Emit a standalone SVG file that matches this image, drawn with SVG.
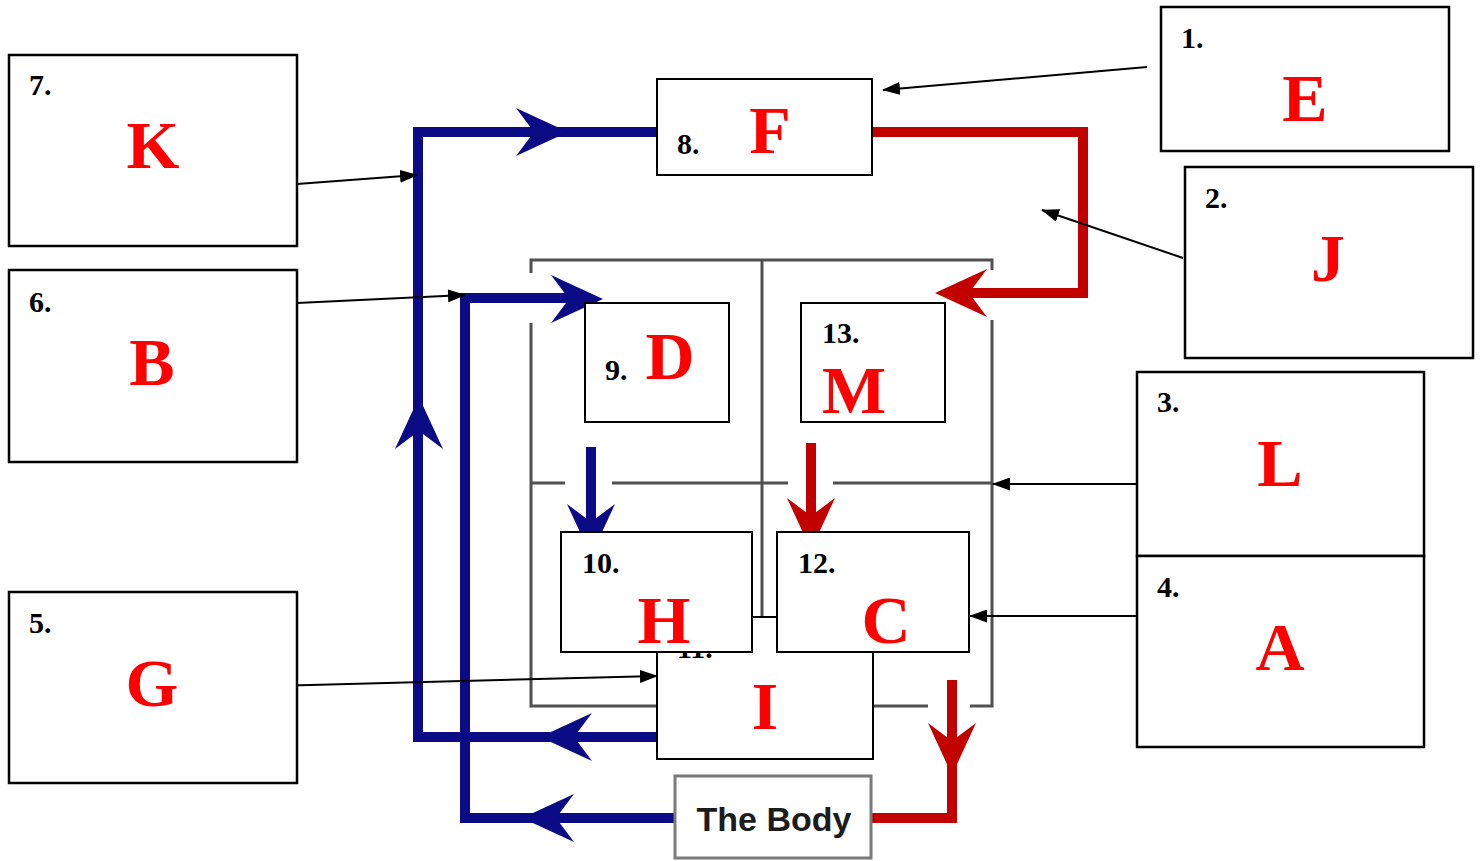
<svg xmlns="http://www.w3.org/2000/svg" width="1480" height="861" viewBox="0 0 1480 861">
  <style>
    .box { fill: #ffffff; stroke: #000000; stroke-width: 2.5; }
    .inbox { fill: #ffffff; stroke: #000000; stroke-width: 2; }
    .num { font-family: "Liberation Serif", "Times New Roman", serif; font-weight: bold; font-size: 30px; fill: #000000; }
    .let { font-family: "Liberation Serif", "Times New Roman", serif; font-weight: bold; font-size: 68px; fill: #ff0000; text-anchor: middle; }
    .wall { fill: none; stroke: #505050; stroke-width: 3; }
    .blue { fill: none; stroke: #0b0b85; stroke-width: 10; stroke-linejoin: miter; }
    .red { fill: none; stroke: #c20000; stroke-width: 10; stroke-linejoin: miter; }
    .bfill { fill: #0b0b85; }
    .rfill { fill: #c20000; }
    .ptr { fill: none; stroke: #000000; stroke-width: 2; marker-end: url(#tip); }
    .body { fill: #ffffff; stroke: #7a7a7a; stroke-width: 3; }
    .bodytext { font-family: "Liberation Sans", Arial, sans-serif; font-weight: bold; font-size: 34px; fill: #1c1c1c; text-anchor: middle; }
  </style>
  <defs>
    <!-- chevron arrowhead pointing right, tip at origin -->
    <path id="head" d="M0,0 L-52,-24 L-34,0 L-52,24 Z"/>
    <marker id="tip" viewBox="0 0 18 13" refX="17" refY="6.5" markerWidth="18" markerHeight="13" markerUnits="userSpaceOnUse" orient="auto">
      <path d="M0,0 L18,6.5 L0,13 Z" fill="#000000"/>
    </marker>
  </defs>

  <rect x="0" y="0" width="1480" height="861" fill="#ffffff"/>

  <!-- heart chambers outline -->
  <g id="heart-walls">
    <path class="wall" d="M531,273 V260 H992 V270"/>
    <path class="wall" d="M531,323 V706 H657"/>
    <path class="wall" d="M992,320 V706 H970"/>
    <path class="wall" d="M873,706 H928"/>
    <path class="wall" d="M762,260 V616"/>
    <path class="wall" d="M531,483 H565 M612,483 H788 M833,483 H992"/>
  </g>

  <!-- circulation flows -->
  <g id="connectors">
    <path class="blue" d="M657,737 H418 V132 H560"/>
    <path class="blue" d="M560,132 H657"/>
    <path class="blue" d="M675,818 H465 V298 H580"/>
    <path class="blue" d="M591,447 V530"/>
    <path class="red" d="M872,132 H1083 V293 H960"/>
    <path class="red" d="M811,443 V530"/>
    <path class="red" d="M952,680 V818 H872"/>

    <use href="#head" class="bfill" transform="translate(568,132)"/>
    <use href="#head" class="bfill" transform="translate(419,397) rotate(-90)"/>
    <use href="#head" class="bfill" transform="translate(540,737) rotate(180)"/>
    <use href="#head" class="bfill" transform="translate(522,818) rotate(180)"/>
    <use href="#head" class="bfill" transform="translate(603,299)"/>
    <use href="#head" class="bfill" transform="translate(591,556) rotate(90)"/>
    <use href="#head" class="rfill" transform="translate(935,293) rotate(180)"/>
    <use href="#head" class="rfill" transform="translate(811,550) rotate(90)"/>
    <use href="#head" class="rfill" transform="translate(952,775) rotate(90)"/>
  </g>

  <!-- labels inside the heart -->
  <g id="node-11">
    <rect class="inbox" x="657" y="617" width="216" height="142"/>
    <text class="num" x="677" y="658">11.</text>
    <text class="let" x="765" y="729">I</text>
  </g>
  <g id="node-10">
    <rect class="inbox" x="561" y="532" width="191" height="120"/>
    <text class="num" x="582" y="573">10.</text>
    <text class="let" x="664" y="643">H</text>
  </g>
  <g id="node-12">
    <rect class="inbox" x="777" y="532" width="192" height="120"/>
    <text class="num" x="798" y="573">12.</text>
    <text class="let" x="886" y="643">C</text>
  </g>
  <g id="node-9">
    <rect class="inbox" x="585" y="303" width="144" height="119"/>
    <text class="num" x="605" y="380">9.</text>
    <text class="let" x="670" y="379">D</text>
  </g>
  <g id="node-13">
    <rect class="inbox" x="801" y="303" width="144" height="119"/>
    <text class="num" x="822" y="343">13.</text>
    <text class="let" x="854" y="413">M</text>
  </g>
  <g id="node-8">
    <rect class="inbox" x="657" y="79" width="215" height="96"/>
    <text class="num" x="677" y="154">8.</text>
    <text class="let" x="770" y="153">F</text>
  </g>
  <g id="node-body">
    <rect class="body" x="675" y="776" width="196" height="82"/>
    <text class="bodytext" x="774" y="831">The Body</text>
  </g>

  <!-- pointer lines from answer boxes -->
  <g id="pointers">
    <line class="ptr" x1="1147" y1="67" x2="883" y2="90"/>
    <line class="ptr" x1="1183" y1="258" x2="1042" y2="210"/>
    <line class="ptr" x1="1137" y1="484" x2="993" y2="484"/>
    <line class="ptr" x1="1137" y1="616" x2="970" y2="616"/>
    <line class="ptr" x1="297" y1="184" x2="417" y2="175"/>
    <line class="ptr" x1="297" y1="303" x2="465" y2="295"/>
    <line class="ptr" x1="272" y1="686" x2="657" y2="676"/>
  </g>

  <!-- answer boxes -->
  <g id="node-7">
    <rect class="box" x="9" y="55" width="288" height="191"/>
    <text class="num" x="29" y="95">7.</text>
    <text class="let" x="153" y="168">K</text>
  </g>
  <g id="node-6">
    <rect class="box" x="9" y="270" width="288" height="192"/>
    <text class="num" x="29" y="312">6.</text>
    <text class="let" x="152" y="385">B</text>
  </g>
  <g id="node-5">
    <rect class="box" x="9" y="592" width="288" height="191"/>
    <text class="num" x="29" y="633">5.</text>
    <text class="let" x="152" y="706">G</text>
  </g>
  <g id="node-1">
    <rect class="box" x="1161" y="7" width="288" height="144"/>
    <text class="num" x="1181" y="48">1.</text>
    <text class="let" x="1305" y="121">E</text>
  </g>
  <g id="node-2">
    <rect class="box" x="1185" y="167" width="288" height="191"/>
    <text class="num" x="1205" y="208">2.</text>
    <text class="let" x="1328" y="281">J</text>
  </g>
  <g id="node-3">
    <rect class="box" x="1137" y="372" width="287" height="184"/>
    <text class="num" x="1157" y="412">3.</text>
    <text class="let" x="1280" y="486">L</text>
  </g>
  <g id="node-4">
    <rect class="box" x="1137" y="556" width="287" height="191"/>
    <text class="num" x="1157" y="597">4.</text>
    <text class="let" x="1280" y="670">A</text>
  </g>
</svg>
